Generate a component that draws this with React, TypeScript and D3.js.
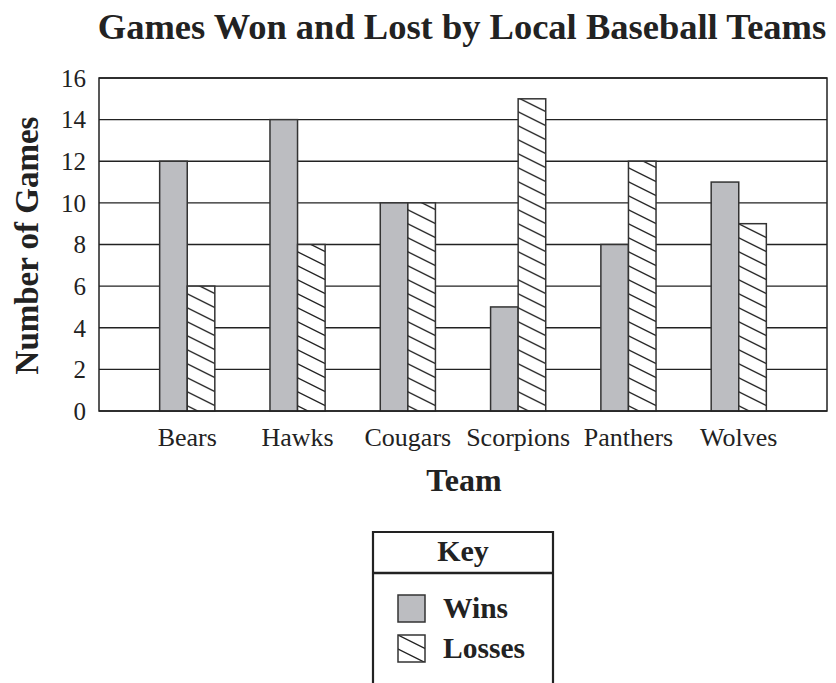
import React, { useEffect, useRef } from 'react';
import * as d3 from 'd3';

// data
const teams = ['Bears', 'Hawks', 'Cougars', 'Scorpions', 'Panthers', 'Wolves'];
const wins = [12, 14, 10, 5, 8, 11];
const losses = [6, 8, 10, 15, 12, 9];
const yTicks = [0, 2, 4, 6, 8, 10, 12, 14, 16];
const seriesKeys = ['wins', 'losses'];
const seriesLabels = ['Wins', 'Losses'];

const App: React.FC = () => {
  const chartRef = useRef<SVGSVGElement | null>(null);

  useEffect(() => {
    const width = 836;
    const height = 683;
    const margin = { top: 78, right: 9, bottom: 272, left: 99 };
    const serif = '"Liberation Serif", "Times New Roman", serif';

    const svg = d3.select(chartRef.current);
    svg.selectAll('*').remove();
    svg.attr('width', width).attr('height', height).attr('viewBox', `0 0 ${width} ${height}`);

    // hatch for losses
    const defs = svg.append('defs');
    const pat = defs.append('pattern')
      .attr('id', 'hatch')
      .attr('patternUnits', 'userSpaceOnUse')
      .attr('width', 28)
      .attr('height', 14);
    pat.append('rect').attr('width', 28).attr('height', 14).attr('fill', 'white');
    [[-4, -2, 32, 16], [-4, 12, 4, 16], [24, -2, 32, 2]].forEach(([x1, y1, x2, y2]) => {
      pat.append('line')
        .attr('x1', x1).attr('y1', y1).attr('x2', x2).attr('y2', y2)
        .attr('stroke', '#222').attr('stroke-width', 1.3);
    });

    const x0 = d3.scaleBand<string>()
      .domain(teams)
      .range([margin.left, width - margin.right])
      .paddingInner(0.5)
      .paddingOuter(0.55);

    const x1 = d3.scaleBand<string>()
      .domain(seriesKeys)
      .range([0, x0.bandwidth()]);

    const y = d3.scaleLinear()
      .domain([0, 16])
      .range([height - margin.bottom, margin.top]);

    // grid lines
    svg.append('g')
      .selectAll('line')
      .data(yTicks)
      .enter().append('line')
      .attr('x1', margin.left)
      .attr('x2', width - margin.right)
      .attr('y1', d => y(d))
      .attr('y2', d => y(d))
      .attr('stroke', '#222')
      .attr('stroke-width', 1.4);

    // bars
    const rows = teams.map((t, i) => ({ team: t, values: [wins[i], losses[i]] }));
    svg.append('g')
      .selectAll('g')
      .data(rows)
      .enter().append('g')
      .attr('transform', d => `translate(${x0(d.team)},0)`)
      .selectAll('rect')
      .data(d => d.values.map((v, j) => ({ key: seriesKeys[j], value: v })))
      .enter().append('rect')
      .attr('x', d => x1(d.key)!)
      .attr('y', d => y(d.value))
      .attr('width', x1.bandwidth())
      .attr('height', d => y(0) - y(d.value))
      .attr('fill', d => (d.key === 'wins' ? '#bcbdc1' : 'url(#hatch)'))
      .attr('stroke', '#333')
      .attr('stroke-width', 1.5);

    // plot frame
    svg.append('rect')
      .attr('x', margin.left)
      .attr('y', margin.top)
      .attr('width', width - margin.left - margin.right)
      .attr('height', height - margin.top - margin.bottom)
      .attr('fill', 'none')
      .attr('stroke', '#222')
      .attr('stroke-width', 1.5);

    // y tick labels
    svg.append('g')
      .selectAll('text')
      .data(yTicks)
      .enter().append('text')
      .attr('x', 86)
      .attr('y', d => y(d))
      .attr('dy', '0.35em')
      .attr('text-anchor', 'end')
      .attr('font-family', serif)
      .attr('font-size', 25)
      .attr('fill', '#222')
      .text(d => d);

    // x tick labels
    svg.append('g')
      .selectAll('text')
      .data(teams)
      .enter().append('text')
      .attr('x', d => x0(d)! + x0.bandwidth() / 2)
      .attr('y', 446)
      .attr('text-anchor', 'middle')
      .attr('font-family', serif)
      .attr('font-size', 26)
      .attr('fill', '#222')
      .text(d => d);

    // title + axis titles
    svg.append('text')
      .attr('x', 462)
      .attr('y', 39)
      .attr('text-anchor', 'middle')
      .attr('font-family', serif)
      .attr('font-weight', 'bold')
      .attr('font-size', 36.5)
      .attr('fill', '#222')
      .text('Games Won and Lost by Local Baseball Teams');

    svg.append('text')
      .attr('x', 464)
      .attr('y', 491)
      .attr('text-anchor', 'middle')
      .attr('font-family', serif)
      .attr('font-weight', 'bold')
      .attr('font-size', 32)
      .attr('fill', '#222')
      .text('Team');

    svg.append('text')
      .attr('transform', `translate(38,${(y(0) + y(16)) / 2 + 1}) rotate(-90)`)
      .attr('text-anchor', 'middle')
      .attr('font-family', serif)
      .attr('font-weight', 'bold')
      .attr('font-size', 33)
      .attr('fill', '#222')
      .text('Number of Games');

    // key box
    const key = svg.append('g');
    key.append('path')
      .attr('d', `M373,${height + 5}V532H553V${height + 5}`)
      .attr('fill', 'none')
      .attr('stroke', '#222')
      .attr('stroke-width', 2.2);
    key.append('line')
      .attr('x1', 373).attr('x2', 553)
      .attr('y1', 573).attr('y2', 573)
      .attr('stroke', '#222')
      .attr('stroke-width', 2.5);
    key.append('text')
      .attr('x', 463)
      .attr('y', 561)
      .attr('text-anchor', 'middle')
      .attr('font-family', serif)
      .attr('font-weight', 'bold')
      .attr('font-size', 30)
      .attr('fill', '#222')
      .text('Key');

    const items = key.selectAll('g.item')
      .data(seriesKeys)
      .enter().append('g')
      .attr('class', 'item')
      .attr('transform', (_, i) => `translate(398,${595 + i * 40})`);
    items.append('rect')
      .attr('width', 27)
      .attr('height', 27)
      .attr('fill', d => (d === 'wins' ? '#bcbdc1' : 'url(#hatch)'))
      .attr('stroke', '#333')
      .attr('stroke-width', 1.5);
    items.append('text')
      .attr('x', 45)
      .attr('y', 23)
      .attr('font-family', serif)
      .attr('font-weight', 'bold')
      .attr('font-size', 29.5)
      .attr('fill', '#222')
      .text((_, i) => seriesLabels[i]);
  }, []);

  return (
    <div>
      <svg ref={chartRef} style={{ position: 'absolute', left: 0, top: 0 }}></svg>
    </div>
  );
};

export default App;
